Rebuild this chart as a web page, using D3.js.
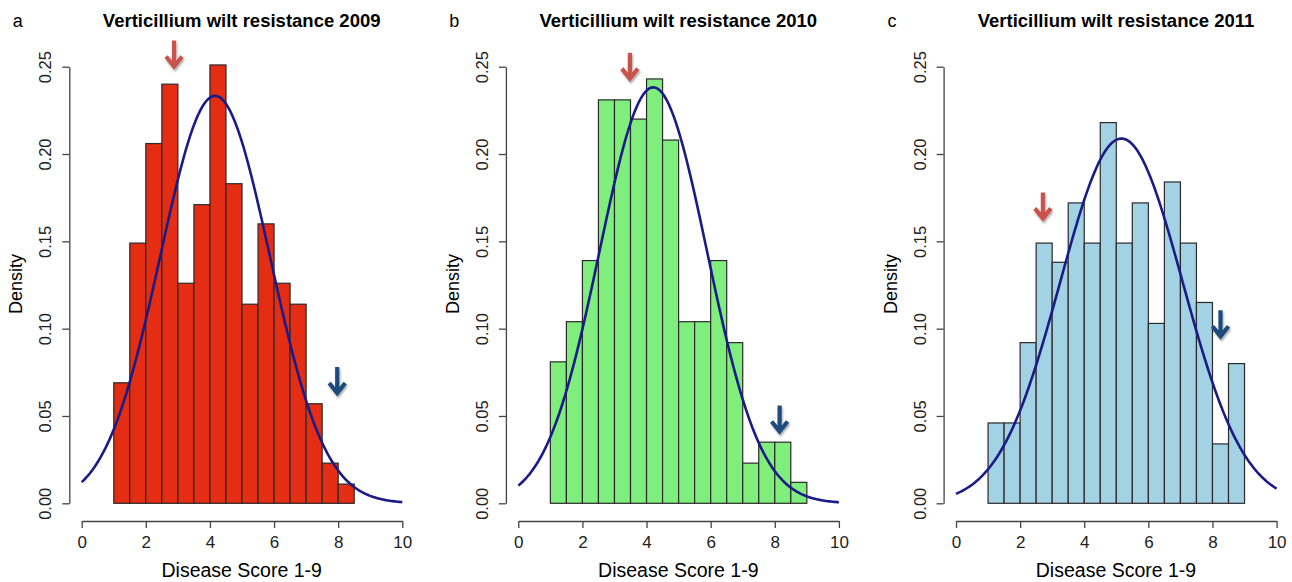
<!DOCTYPE html>
<html>
<head>
<meta charset="utf-8">
<script src="https://cdn.jsdelivr.net/npm/d3@7"></script>
<style>
  body { margin: 0; background: #fff; }
  svg { display: block; font-family: "Liberation Sans", Arial, Helvetica, sans-serif; }
</style>
</head>
<body>
<div id="chart"></div>
<script>
// chart values
var panelLetters = ["a", "b", "c"];
var panelTitles = [
  "Verticillium wilt resistance 2009",
  "Verticillium wilt resistance 2010",
  "Verticillium wilt resistance 2011"
];
var barColors = ["#e42d13", "#80ee7c", "#a3d2e5"];

// histogram bins (width 0.5) starting at score 1
var binEdges2009 = [1, 1.5, 2, 2.5, 3, 3.5, 4, 4.5, 5, 5.5, 6, 6.5, 7, 7.5, 8, 8.5];
var binEdges2010 = [1, 1.5, 2, 2.5, 3, 3.5, 4, 4.5, 5, 5.5, 6, 6.5, 7, 7.5, 8, 8.5, 9];
var binEdges2011 = [1, 1.5, 2, 2.5, 3, 3.5, 4, 4.5, 5, 5.5, 6, 6.5, 7, 7.5, 8, 8.5, 9];

var density2009 = [0.069, 0.149, 0.206, 0.240, 0.126, 0.171, 0.251, 0.183, 0.114, 0.160, 0.126, 0.114, 0.057, 0.023, 0.011];
var density2010 = [0.081, 0.104, 0.139, 0.231, 0.231, 0.220, 0.243, 0.208, 0.104, 0.104, 0.139, 0.092, 0.023, 0.035, 0.035, 0.012];
var density2011 = [0.046, 0.046, 0.092, 0.149, 0.138, 0.172, 0.149, 0.218, 0.149, 0.172, 0.103, 0.184, 0.149, 0.115, 0.034, 0.080];

// fitted normal curve (mean, sd)
var fitMean = [4.16, 4.21, 5.16];
var fitSd = [1.71, 1.675, 1.91];

// arrows: x position and density of the tip
var redArrowX = [2.88, 3.48, 2.71];
var redArrowTip = [0.249, 0.242, 0.162];
var blueArrowX = [7.97, 8.15, 8.25];
var blueArrowTip = [0.062, 0.040, 0.0945];

var xTicks = [0, 2, 4, 6, 8, 10];
var yTicks = [0, 0.05, 0.10, 0.15, 0.20, 0.25];

var edges = [binEdges2009, binEdges2010, binEdges2011];
var densities = [density2009, density2010, density2011];

// Layout
var svgWidth = 1292;
var svgHeight = 582;
var panelX0 = [81.7, 518.3, 956];   // pixel of score 0 in each panel
var panelW = 320.6;
var yTop = 66.7, yBottom = 503.3, xAxisY = 521;

var svg = d3.select("#chart")
  .append("svg")
  .attr("width", svgWidth)
  .attr("height", svgHeight);

var defs = svg.append("defs");
var shadow = defs.append("filter").attr("id", "soft")
  .attr("x", "-50%").attr("y", "-50%").attr("width", "200%").attr("height", "200%");
shadow.append("feGaussianBlur").attr("in", "SourceAlpha").attr("stdDeviation", 1.2).attr("result", "b");
shadow.append("feOffset").attr("in", "b").attr("dx", 0.5).attr("dy", 1.5).attr("result", "o");
shadow.append("feComponentTransfer").attr("in", "o").attr("result", "s")
  .append("feFuncA").attr("type", "linear").attr("slope", 0.35);
var merge = shadow.append("feMerge");
merge.append("feMergeNode").attr("in", "s");
merge.append("feMergeNode").attr("in", "SourceGraphic");

var yScale = d3.scaleLinear().domain([0, 0.25]).range([yBottom, yTop]);

function dnorm(x, m, s) {
  return Math.exp(-0.5 * Math.pow((x - m) / s, 2)) / (s * Math.sqrt(2 * Math.PI));
}

function drawArrow(g, x, yTip, color) {
  var top = yTip - 28;
  g.append("path")
    .attr("d", `M${x},${top} L${x},${yTip - 3} M${x - 8},${yTip - 12} L${x},${yTip - 2} L${x + 8},${yTip - 12}`)
    .attr("fill", "none")
    .attr("stroke", color)
    .attr("stroke-width", 4.2)
    .attr("stroke-linejoin", "miter")
    .attr("filter", "url(#soft)");
}

panelTitles.forEach(function(title, i) {
  var x0 = panelX0[i];
  var xScale = d3.scaleLinear().domain([0, 10]).range([x0, x0 + panelW]);
  var g = svg.append("g");

  // bars
  var bins = densities[i].map(function(d, j) {
    return { x0: edges[i][j], x1: edges[i][j + 1], d: d };
  });
  g.selectAll("rect.bar")
    .data(bins)
    .enter()
    .append("rect")
    .attr("class", "bar")
    .attr("x", d => xScale(d.x0))
    .attr("width", d => xScale(d.x1) - xScale(d.x0))
    .attr("y", d => yScale(d.d))
    .attr("height", d => yScale(0) - yScale(d.d))
    .attr("fill", barColors[i])
    .attr("stroke", "#2a2a2a")
    .attr("stroke-width", 1.2);

  // normal curve
  var pts = d3.range(0, 10.001, 0.05).map(x => [x, dnorm(x, fitMean[i], fitSd[i])]);
  g.append("path")
    .datum(pts)
    .attr("fill", "none")
    .attr("stroke", "#1b1b88")
    .attr("stroke-width", 2.6)
    .attr("d", d3.line().x(d => xScale(d[0])).y(d => yScale(d[1])));

  // y axis
  var yAxis = g.append("g")
    .attr("transform", `translate(${x0 - 12.4}, 0)`)
    .call(d3.axisLeft(yScale).tickValues(yTicks).tickFormat(d3.format(".2f")).tickSize(7).tickSizeOuter(0));
  yAxis.selectAll("text")
    .attr("transform", "rotate(-90)")
    .attr("x", 0).attr("y", -18).attr("dy", 0)
    .attr("text-anchor", "middle")
    .style("font-size", "16.5px").attr("fill", "#222");

  // x axis
  var xAxis = g.append("g")
    .attr("transform", `translate(0, ${xAxisY})`)
    .call(d3.axisBottom(xScale).tickValues(xTicks).tickSize(7).tickSizeOuter(0));
  xAxis.selectAll("text")
    .attr("y", 26.5).attr("dy", 0)
    .style("font-size", "17px").attr("fill", "#222");

  svg.selectAll(".domain, .tick line").attr("stroke", "#444").attr("stroke-width", 1.3);
  svg.selectAll(".tick text").style("font-family", "'Liberation Sans', Arial, sans-serif");

  // labels
  g.append("text")
    .attr("x", x0 + 160).attr("y", 26.5)
    .attr("text-anchor", "middle")
    .style("font-weight", "bold").style("font-size", "18.5px")
    .text(title);
  g.append("text")
    .attr("x", x0 - 64).attr("y", 26.5)
    .attr("text-anchor", "middle")
    .style("font-size", "18px")
    .text(panelLetters[i]);
  g.append("text")
    .attr("x", x0 + 160).attr("y", 577)
    .attr("text-anchor", "middle")
    .style("font-size", "19.5px")
    .text("Disease Score 1-9");
  g.append("text")
    .attr("transform", `translate(${x0 - 59.5}, 284) rotate(-90)`)
    .attr("text-anchor", "middle")
    .style("font-size", "18px")
    .text("Density");

  // arrows
  drawArrow(g, xScale(redArrowX[i]), yScale(redArrowTip[i]), "#c9524c");
  drawArrow(g, xScale(blueArrowX[i]), yScale(blueArrowTip[i]), "#1f4c7c");
});
</script>
</body>
</html>
